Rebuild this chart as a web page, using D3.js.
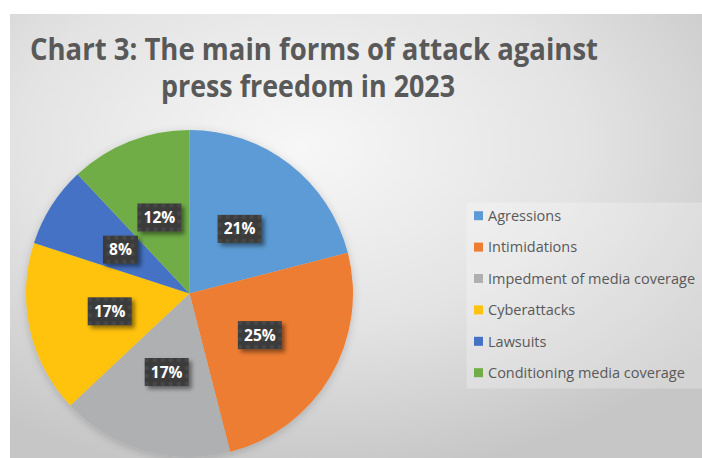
<!DOCTYPE html>
<html>
<head>
<meta charset="utf-8">
<script src="https://cdn.jsdelivr.net/npm/d3@7"></script>
<style>
  html, body { margin: 0; padding: 0; background: #ffffff; }
  svg { display: block; }
</style>
</head>
<body>
<svg id="chart" width="702" height="458"></svg>
<script>
// Chart data
const categories = ["Agressions", "Intimidations", "Impedment of media coverage", "Cyberattacks", "Lawsuits", "Conditioning media coverage"];
const shares = [21, 25, 17, 17, 8, 12];
const colors = ["#5B9BD5", "#ED7D31", "#AFB0B2", "#FFC20E", "#4472C4", "#70AD47"];
const titleLines = ["Chart 3: The main forms of attack against", "press freedom in 2023"];

const W = 702, H = 458;
const svg = d3.select("#chart");
const defs = svg.append("defs");

// Background gradient of the chart area
const bg = defs.append("radialGradient").attr("id", "bgGrad")
  .attr("cx", "42%").attr("cy", "30%").attr("r", "75%");
bg.append("stop").attr("offset", "0%").attr("stop-color", "#f7f7f7");
bg.append("stop").attr("offset", "55%").attr("stop-color", "#e3e3e3");
bg.append("stop").attr("offset", "100%").attr("stop-color", "#c6c6c6");

// Soft shadow used by the value boxes
const sh = defs.append("filter").attr("id", "boxShadow")
  .attr("x", "-30%").attr("y", "-30%").attr("width", "170%").attr("height", "170%");
sh.append("feDropShadow").attr("dx", 3).attr("dy", 3).attr("stdDeviation", 2)
  .attr("flood-color", "#000").attr("flood-opacity", 0.45);

// Faint shadow around the pie
const pieSh = defs.append("filter").attr("id", "pieShadow")
  .attr("x", "-20%").attr("y", "-20%").attr("width", "140%").attr("height", "140%");
pieSh.append("feDropShadow").attr("dx", 0).attr("dy", 2).attr("stdDeviation", 4)
  .attr("flood-color", "#000").attr("flood-opacity", 0.18);

// Dotted texture for the value boxes
const pat = defs.append("pattern").attr("id", "dots")
  .attr("width", 8).attr("height", 8).attr("patternUnits", "userSpaceOnUse");
pat.append("rect").attr("width", 8).attr("height", 8).attr("fill", "#3b3b3b");
pat.append("circle").attr("cx", 4).attr("cy", 4).attr("r", 2.2).attr("fill", "#474747");

// Chart area
svg.append("rect").attr("x", 10).attr("y", 14).attr("width", W - 10).attr("height", H - 14)
  .attr("fill", "url(#bgGrad)");

// Title
svg.append("g").selectAll("text").data(titleLines).join("text")
  .attr("x", (d, i) => i === 0 ? 314 : 308)
  .attr("y", (d, i) => 60 + i * 37)
  .attr("text-anchor", "middle")
  .attr("font-family", "'Open Sans', 'Liberation Sans', sans-serif")
  .attr("font-weight", "bold")
  .attr("font-size", 30)
  .attr("fill", "#595959")
  .attr("textLength", (d, i) => i === 0 ? 568 : 294)
  .attr("lengthAdjust", "spacingAndGlyphs")
  .text(d => d);

// Pie
const cx = 189.5, cy = 293.5, R = 163.5;
const pie = d3.pie().sort(null).value(d => d)(shares);
const arc = d3.arc().innerRadius(0).outerRadius(R);
const labelArc = d3.arc().innerRadius(R * 0.5).outerRadius(R * 0.5);

const g = svg.append("g").attr("transform", `translate(${cx},${cy})`);
g.append("g").attr("filter", "url(#pieShadow)")
  .selectAll("path").data(pie).join("path")
  .attr("d", arc)
  .attr("fill", (d, i) => colors[i]);

// Value labels
const lab = g.append("g").selectAll("g").data(pie).join("g")
  .attr("transform", d => `translate(${labelArc.centroid(d)})`);
lab.each(function(d) {
  const sel = d3.select(this);
  const txt = d.data + "%";
  const w = txt.length * 9 + 17, h = 28;
  sel.append("rect").attr("x", -w / 2).attr("y", -h / 2).attr("width", w).attr("height", h)
    .attr("fill", "url(#dots)").attr("filter", "url(#boxShadow)");
  sel.append("text").attr("text-anchor", "middle").attr("dy", "0.36em")
    .attr("font-family", "'Open Sans', 'Liberation Sans', sans-serif")
    .attr("font-weight", "bold").attr("font-size", 15.5)
    .attr("fill", "#ffffff").text(txt);
});

// Legend
const legend = svg.append("g");
legend.append("rect").attr("x", 466.5).attr("y", 202.5).attr("width", W - 466.5).attr("height", 186)
  .attr("fill", "#ffffff").attr("fill-opacity", 0.25);
const items = legend.selectAll("g.item").data(categories).join("g")
  .attr("class", "item")
  .attr("transform", (d, i) => `translate(474, ${215.7 + i * 31.4})`);
items.append("rect").attr("x", 0).attr("y", -4.5).attr("width", 9).attr("height", 9)
  .attr("fill", (d, i) => colors[i]);
items.append("text").attr("x", 14).attr("dy", "0.36em")
  .attr("font-family", "'Open Sans', 'Liberation Sans', sans-serif")
  .attr("font-size", 14.5).attr("fill", "#595959")
  .text(d => d);
</script>
</body>
</html>
